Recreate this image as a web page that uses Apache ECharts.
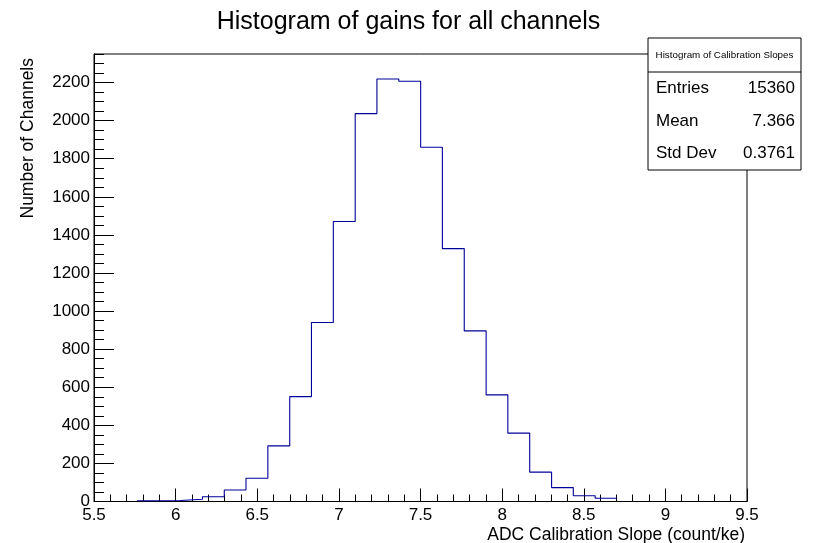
<!DOCTYPE html>
<html>
<head>
<meta charset="utf-8">
<script src="https://cdn.jsdelivr.net/npm/echarts@6/dist/echarts.min.js"></script>
<style>
html,body{margin:0;padding:0;background:#fff;}
#chart{width:817px;height:543px;}
</style>
</head>
<body>
<div id="chart"></div>
<script>
// ---- data ----
const binEdges = [5.763, 5.897, 6.030, 6.164, 6.298, 6.431, 6.565, 6.699, 6.832, 6.966, 7.100, 7.233,
                  7.367, 7.501, 7.634, 7.768, 7.902, 8.035, 8.169, 8.303, 8.436, 8.570, 8.704];
const binCounts = [4, 5, 12, 25, 60, 122, 292, 551, 940, 1470, 2037, 2219,
                   2207, 1860, 1328, 896, 560, 359, 154, 73, 30, 17];
const xRange = [5.5, 9.5];
const xStep = 0.5;
const yRange = [0, 2350];
const yStep = 200;
const yMinorStep = 50;
const chartTitle = 'Histogram of gains for all channels';
const xTitle = 'ADC Calibration Slope (count/ke)';
const yTitle = 'Number of Channels';
const statsTitle = 'Histogram of Calibration Slopes';
const statsLabels = ['Entries', 'Mean', 'Std Dev'];
const statsValues = ['15360', '7.366', '0.3761'];

// ---- build histogram outline from bins ----
const outline = [];
for (let i = 0; i < binCounts.length; i++) {
  outline.push([binEdges[i], binCounts[i]]);
  outline.push([binEdges[i + 1], binCounts[i]]);
}

const FONT = 'Liberation Sans, Arial, Helvetica, sans-serif';
const G = {left: 94, top: 54, right: 70, bottom: 41.5};
const W = 817, H = 543;

const chart = echarts.init(document.getElementById('chart'), null, {renderer: 'canvas'});

const box = {x: 648, y: 38, w: 153, h: 132, headH: 34};
const rowH = (box.h - box.headH) / statsLabels.length;
const statsChildren = [
  {type: 'rect', shape: {x: box.x, y: box.y, width: box.w, height: box.h},
   style: {fill: '#fff', stroke: '#000', lineWidth: 1}},
  {type: 'line', shape: {x1: box.x, y1: box.y + box.headH, x2: box.x + box.w, y2: box.y + box.headH},
   style: {stroke: '#000', lineWidth: 1}},
  {type: 'text', x: box.x + box.w / 2, y: box.y + box.headH / 2,
   style: {text: statsTitle, font: '9.8px ' + FONT, fill: '#000', align: 'center', verticalAlign: 'middle'}}
];
statsLabels.forEach((lab, i) => {
  const cy = box.y + box.headH + rowH * (i + 0.5);
  statsChildren.push({type: 'text', x: box.x + 8, y: cy,
    style: {text: lab, font: '17px ' + FONT, fill: '#000', align: 'left', verticalAlign: 'middle'}});
  statsChildren.push({type: 'text', x: box.x + box.w - 6, y: cy,
    style: {text: statsValues[i], font: '17px ' + FONT, fill: '#000', align: 'right', verticalAlign: 'middle'}});
});

const option = {
  animation: false,
  backgroundColor: '#fff',
  title: {
    text: chartTitle, left: 'center', top: 5,
    textStyle: {fontFamily: FONT, fontSize: 25, fontWeight: 'normal', color: '#000'}
  },
  grid: {left: G.left, top: G.top, right: G.right, bottom: G.bottom, show: true,
         borderColor: '#000', borderWidth: 1, backgroundColor: 'transparent', containLabel: false},
  xAxis: {
    type: 'value', min: xRange[0], max: xRange[1], interval: xStep,
    axisLine: {show: true, onZero: false, lineStyle: {color: '#000', width: 1}},
    axisTick: {show: true, inside: true, length: 13, lineStyle: {color: '#000', width: 1}},
    minorTick: {show: true, splitNumber: 5, length: 7, lineStyle: {color: '#000', width: 1}},
    splitLine: {show: false}, minorSplitLine: {show: false},
    axisLabel: {margin: 5, fontFamily: FONT, fontSize: 17, color: '#000',
                formatter: v => String(Math.round(v * 10) / 10)}
  },
  yAxis: [{
    type: 'value', min: yRange[0], max: yRange[1], interval: yStep, position: 'left',
    axisLine: {show: true, onZero: false, lineStyle: {color: '#000', width: 1}},
    axisTick: {show: true, inside: true, length: 20, lineStyle: {color: '#000', width: 1}},
    splitLine: {show: false},
    axisLabel: {margin: 4, fontFamily: FONT, fontSize: 17, color: '#000', showMaxLabel: false,
                formatter: v => String(Math.round(v))}
  }, {
    type: 'value', min: yRange[0], max: yRange[1], interval: yMinorStep, position: 'left', offset: 0,
    axisLine: {show: false, onZero: false},
    axisTick: {show: true, inside: true, length: 10, lineStyle: {color: '#000', width: 1}},
    splitLine: {show: false},
    axisLabel: {show: false}
  }],
  series: [{
    type: 'line', data: outline, xAxisIndex: 0, yAxisIndex: 0,
    symbol: 'none', showSymbol: false, smooth: false,
    lineStyle: {color: '#00009a', width: 1.1}, itemStyle: {color: '#00009a'},
    silent: true, z: 3
  }],
  graphic: [
    {type: 'text', x: W - G.right - 2, y: H - 8, z: 10,
     style: {text: xTitle, font: '17.5px ' + FONT, fill: '#000', align: 'right', verticalAlign: 'middle'}},
    {type: 'text', x: 28, y: G.top + 4, rotation: Math.PI / 2, z: 10,
     style: {text: yTitle, font: '17.5px ' + FONT, fill: '#000', align: 'right', verticalAlign: 'middle'}},
    {type: 'group', z: 20, children: statsChildren}
  ]
};
chart.setOption(option);
</script>
</body>
</html>
